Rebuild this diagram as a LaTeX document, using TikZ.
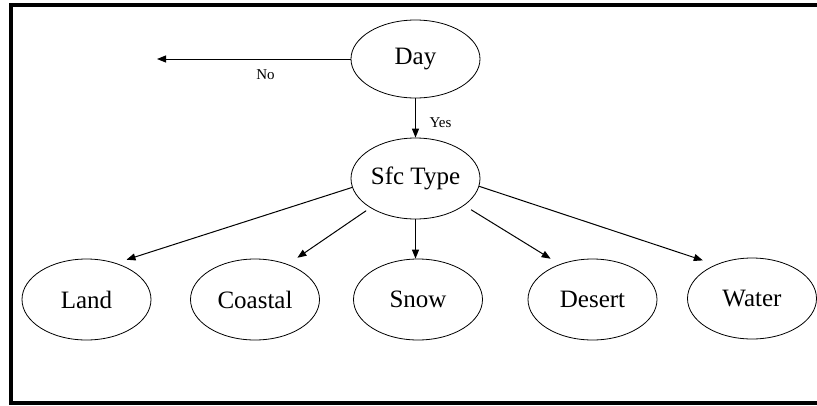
\documentclass[tikz,border=0pt]{standalone}
\usepackage{fontspec}
\setmainfont{Liberation Serif}
\usetikzlibrary{shapes.geometric,arrows.meta}
\begin{document}
\begin{tikzpicture}[x=1pt,y=-1pt,
  oval/.style={draw,ellipse,line width=0.8pt,minimum width=129pt,minimum height=81pt,inner sep=0pt,font=\fontsize{25}{29}\selectfont},
  link/.style={line width=1pt,-{Triangle[length=9pt,width=7pt]}},
  lbl/.style={inner sep=0.75pt,font=\fontsize{15}{17}\selectfont}]
\useasboundingbox (0,0) rectangle (817,405);

%Frame: left, top and bottom sides
\draw [line width=4pt] (817,5.3) -- (11.3,5.3) -- (11.3,403.3) -- (817,403.3) ;

%Shape: Ellipses
\node [oval,minimum height=78pt] (day) at (415.5,59) {Day};
\node [oval] (sfc) at (415.5,178.5) {Sfc Type};
\node [oval] (land) at (86.5,299.5) {Land};
\node [oval] (coastal) at (255,299.5) {Coastal};
\node [oval] (snow) at (418,299.5) {Snow};
\node [oval] (desert) at (592.5,299.5) {Desert};
\node [oval] (water) at (752,298.5) {Water};

%Arrows from Day
\coordinate (nogoal) at (157,59);
\draw [link] (day.west) -- (nogoal) node [lbl,pos=0.44,yshift=-16pt] (no) {No};
\draw [link] (day.south) -- (sfc.north) node [lbl,pos=0.62,xshift=25pt] (yes) {Yes};

%Arrows from Sfc Type
\draw [link,shorten >=11pt] (sfc.188.5) -- (land.51);
\draw [link,shorten <=5pt,shorten >=11.5pt] (sfc.213) -- (coastal.47);
\draw [link] (sfc.south) -- (sfc.south |- snow.north);
\draw [link,shorten <=8pt,shorten >=10.5pt] (sfc.-29) -- (desert.133);
\draw [link,shorten >=13.5pt] (sfc.-7.7) -- (water.137.8);

\end{tikzpicture}
\end{document}
